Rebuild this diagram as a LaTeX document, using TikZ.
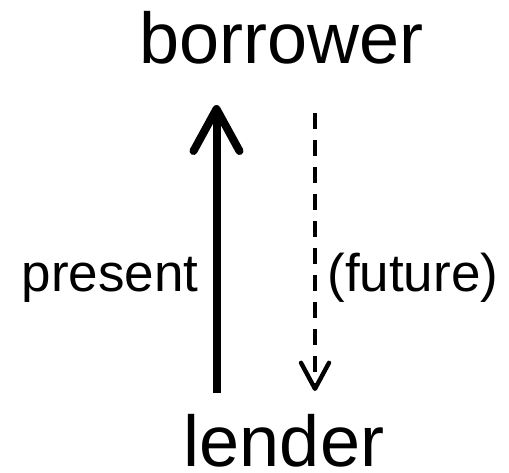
\documentclass[tikz,border=0pt]{standalone}
\usepackage{fontspec}
\setmainfont{Liberation Sans}
\usetikzlibrary{arrows.meta}

\begin{document}
\begin{tikzpicture}[
        x=0.5pt, y=-0.5pt,
        % Define styles for the nodes
        party/.style={inner sep=0pt, anchor=base, font=\fontsize{36}{43}\selectfont},
        tag/.style={inner sep=0pt, anchor=base, font=\fontsize{26.5}{32}\selectfont},
        paid/.style={line width=4pt, -{Straight Barb[length=21pt, width=23pt, line cap=round, line join=round]}},
        owed/.style={line width=2.2pt, dash pattern=on 8pt off 5.5pt, -{Straight Barb[length=13pt, width=14pt, line cap=round, line join=round]}}
    ]
    \useasboundingbox (0,0) rectangle (509,472);

    % Parties
    \node (borrower) [party] at (281.5,63) {borrower};
    \node (lender) [party] at (284,466) {lender};

    % Arrow ends
    \coordinate (paid_from) at (216.5,393);
    \coordinate (paid_to) at (216.5,105);
    \coordinate (owed_from) at (315,113);
    \coordinate (owed_to) at (315,391);

    % Present payment and future repayment
    \draw [paid] (paid_from) -- (paid_to);
    \draw [owed] (owed_from) -- (owed_to);

    % Labels
    \node (present) [tag, anchor=base east] at (199,291) {present};
    \node (future) [tag, anchor=base west] at (327,291) {(future)};

\end{tikzpicture}
\end{document}
